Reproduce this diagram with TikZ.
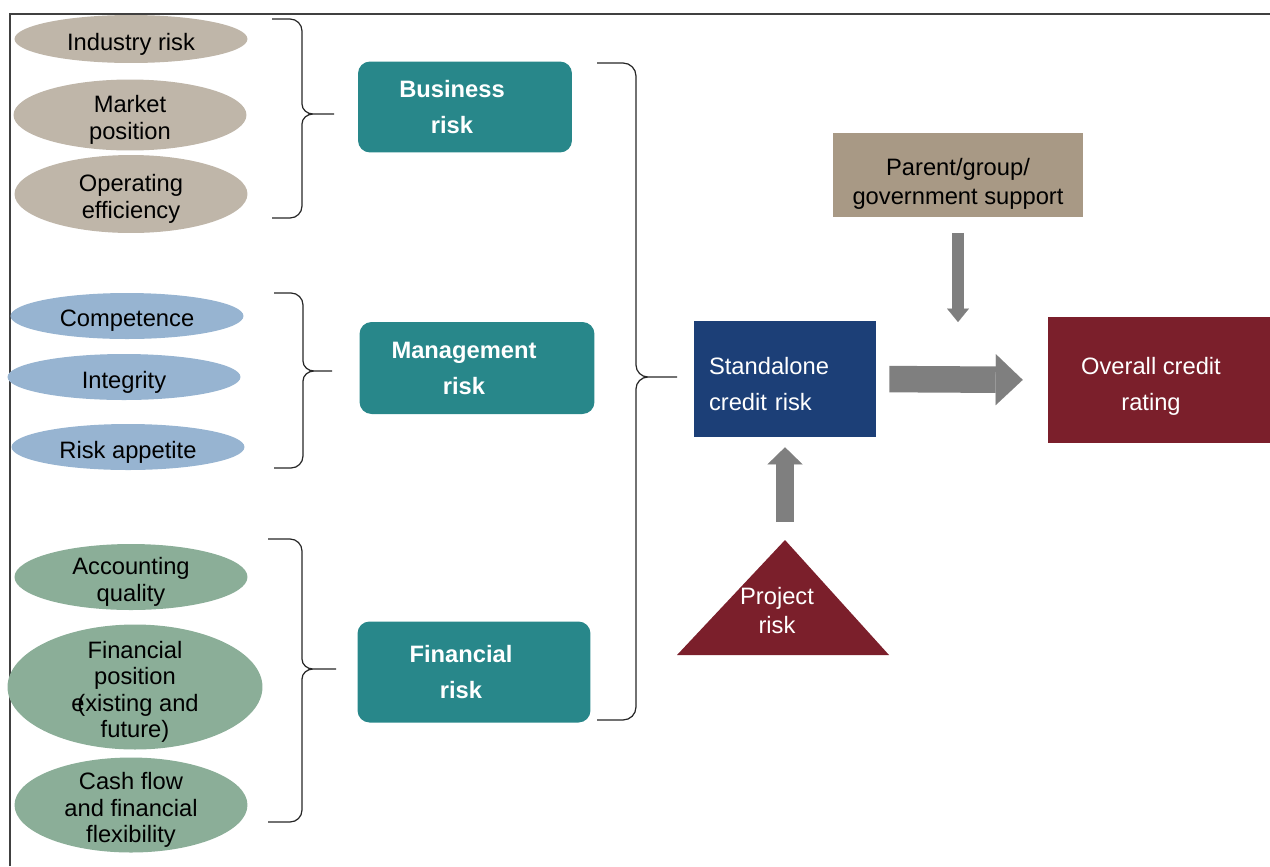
\documentclass[tikz,border=0pt]{standalone}
\usepackage{fontspec}
\setmainfont{Liberation Sans}
\definecolor{factan}{HTML}{BFB6A9}
\definecolor{facblue}{HTML}{97B4D1}
\definecolor{facgreen}{HTML}{8BAE98}
\definecolor{riskteal}{HTML}{28878A}
\definecolor{sanavy}{HTML}{1C3F77}
\definecolor{ratered}{HTML}{7B1F2B}
\definecolor{suptan}{HTML}{A89985}
\definecolor{arrgray}{HTML}{7F7F7F}
\usetikzlibrary{arrows.meta, shapes.geometric, positioning}

\begin{document}
\begin{tikzpicture}[
    x=0.02cm, y=-0.02cm,
    lbltext/.style={align=center, inner sep=0pt,
                    font=\fontsize{13.5}{15}\selectfont},
    fac/.style={ellipse, inner sep=0pt, minimum width=4.66cm},
    factext/.style={label={[lbltext, yshift=-0.1cm]center:{#1}}},
    busfac/.style={fac, fill=factan},
    mgtfac/.style={fac, fill=facblue},
    finfac/.style={fac, fill=facgreen},
    riskbox/.style={rectangle, rounded corners=0.24cm, fill=riskteal,
                    inner sep=0pt},
    risktext/.style={label={[lbltext, text=white, xshift=-0.26cm,
                     font=\fontsize{13.5}{20.5}\selectfont\bfseries]center:{#1}}},
    solidbox/.style={rectangle, inner sep=0pt},
    brc/.style={draw=black!85, line width=0.7pt},
    blockarr/.style={draw=arrgray, line cap=butt}
  ]
  \useasboundingbox (0,0) rectangle (1270,866);
  \draw[black!75, line width=1.2pt] (10,866) -- (10,14) -- (1270,14);

  % risk factors
  \node[busfac, minimum height=0.96cm, factext={Industry risk}] (ind) at (131,39) {};
  \node[busfac, minimum height=1.42cm, factext={Market\\position}] (mkt) at (130,115) {};
  \node[busfac, minimum height=1.56cm, factext={Operating\\efficiency}] (opr) at (131,194) {};

  \node[mgtfac, minimum height=0.92cm, factext={Competence}] (cmp) at (127,316) {};
  \node[mgtfac, minimum height=0.92cm, factext={Integrity}] (itg) at (124,377) {};
  \node[mgtfac, minimum height=0.92cm, factext={Risk appetite}] (rap) at (128,447) {};

  \node[finfac, minimum height=1.32cm, factext={Accounting\\quality}] (acq) at (131,577) {};
  \node[finfac, minimum width=5.1cm, minimum height=2.5cm,
        factext={Financial\\position\\e\kern-0.3em(xisting and\\future)}] (fpo) at (135,687) {};
  \node[finfac, minimum height=1.9cm,
        factext={Cash flow\\and financial\\flexibility}] (cfl) at (131,805) {};

  % risk groups
  \node[riskbox, minimum width=4.28cm, minimum height=1.82cm,
        risktext={Business\\risk}] (bus) at (465,107) {};
  \node[riskbox, minimum width=4.7cm, minimum height=1.84cm,
        risktext={Management\\risk}] (mgt) at (477,368) {};
  \node[riskbox, minimum width=4.66cm, minimum height=2.02cm,
        risktext={Financial\\risk}] (fin) at (474,672) {};

  % braces
  \draw[brc] (272,19) -- (290,19) to[out=0,in=90] (302,31) -- (302,104)
    to[out=-90,in=180] (313,114) -- (334,114)
    (313,114) to[out=180,in=90] (302,124) -- (302,206)
    to[out=-90,in=0] (290,218) -- (272,218);
  \draw[brc] (274,293) -- (291,293) to[out=0,in=90] (303,305) -- (303,361)
    to[out=-90,in=180] (314,371) -- (332,371)
    (314,371) to[out=180,in=90] (303,381) -- (303,456)
    to[out=-90,in=0] (291,468) -- (274,468);
  \draw[brc] (268,539) -- (290,539) to[out=0,in=90] (302,551) -- (302,659)
    to[out=-90,in=180] (313,669) -- (336,669)
    (313,669) to[out=180,in=90] (302,679) -- (302,810)
    to[out=-90,in=0] (290,822) -- (268,822);
  \draw[brc] (597,63) -- (623,63) to[out=0,in=90] (636,76) -- (636,365)
    to[out=-90,in=180] (648,377) -- (677,377)
    (648,377) to[out=180,in=90] (636,389) -- (636,707)
    to[out=-90,in=0] (623,720) -- (597,720);

  % outcome
  \node[solidbox, fill=sanavy, minimum width=3.64cm, minimum height=2.32cm,
        label={[lbltext, text=white, text width=3.04cm, align=left, yshift=-0.1cm,
                font=\fontsize{13.5}{20}\selectfont]center:{Standalone\\ credit risk}}]
    (sar) at (785,379) {};
  \node[solidbox, fill=ratered, minimum width=4.44cm, minimum height=2.52cm,
        label={[lbltext, text=white, xshift=-0.16cm, yshift=-0.12cm,
                font=\fontsize{13.5}{20.5}\selectfont]center:{Overall credit\\rating}}]
    (ovr) at (1159,380) {};
  \node[solidbox, fill=suptan, minimum width=5cm, minimum height=1.7cm,
        label={[lbltext, yshift=-0.18cm,
                font=\fontsize{13.5}{16.5}\selectfont]center:{Parent/group/\\government support}}]
    (par) at (958,175) {};

  \fill[ratered] (677,655) -- (785,540) -- (889,655) -- cycle;
  \coordinate (prjtop) at (785,540);
  \node[lbltext, text=white, font=\fontsize{13.5}{16.5}\selectfont]
    (prj) at (777,611) {Project\\risk};
  \coordinate (dnend) at (958,322);

  \draw[blockarr, line width=0.53cm,
        -{Triangle[length=0.54cm, width=1.02cm, line width=0.01pt]},
        shorten <=0.26cm, shorten >=0.5cm] (sar.east) -- (ovr.west);
  \draw[blockarr, line width=0.23cm,
        -{Triangle[length=0.27cm, width=0.44cm, line width=0.01pt]},
        shorten <=0.3cm] (par.south) -- (dnend);
  \draw[blockarr, line width=0.35cm,
        -{Triangle[length=0.34cm, width=0.7cm, line width=0.01pt]},
        shorten <=0.36cm, shorten >=0.2cm] (prjtop) -- (sar.south);
\end{tikzpicture}
\end{document}
